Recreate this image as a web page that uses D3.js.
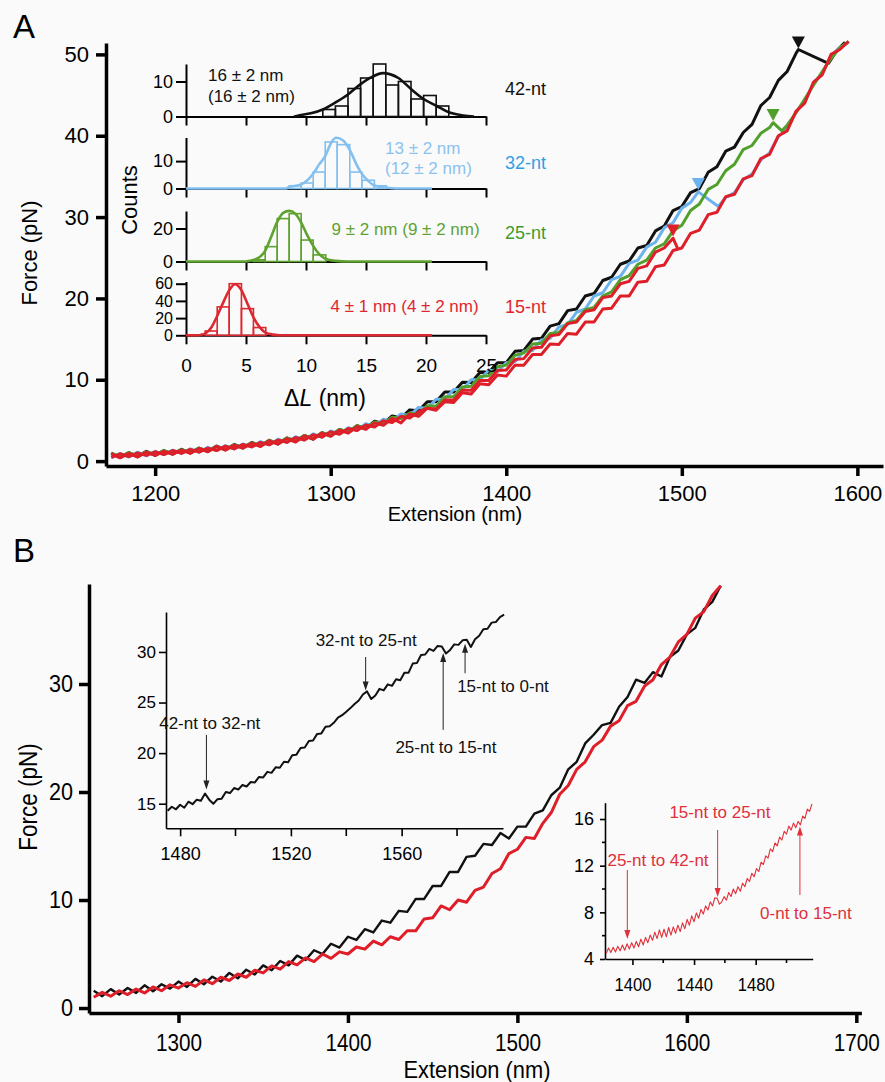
<!DOCTYPE html>
<html><head><meta charset="utf-8">
<script src="https://cdn.jsdelivr.net/npm/d3@7"></script>
<style>body{margin:0;background:#fafafa}svg{display:block}</style>
</head><body>
<svg id="c" width="885" height="1082"></svg>
<script>
// ---------------- DATA ----------------
// Panel A : force-extension traces (extension nm, force pN). Values sampled every 5 nm from start.
const aStart = 1175, aStep = 5;
const blackA = [1.0,0.45,1.05,0.55,1.2,0.7,1.3,0.85,1.45,1.0,1.6,1.2,1.85,1.4,2.05,1.6,2.3,1.85,2.55,2.1,2.85,2.45,3.15,2.7,3.5,3.1,3.9,3.5,4.35,4.0,4.9,4.6,5.55,5.3,6.3,6.2,7.3,7.3,8.5,8.5,9.7,9.65,10.9,10.9,12.1,12.1,13.5,13.6,15.0,15.1,16.6,16.9,18.5,18.7,20.3,20.6,22.2,22.6,24.2,24.6,26.2,26.5,28.3,28.9,30.8,31.3,33.0,33.5,35.5,36.2,38.1,38.6,40.4,41.4,43.7,44.7,46.8,47.9,50.1];
const blackATail = [[1566.4,50.6],[1583.5,48.9],[1588,50.4],[1593,51.5]];
const blueA = [0.4,0.95,0.5,1.1,0.65,1.2,0.8,1.35,0.95,1.5,1.1,1.7,1.3,1.9,1.5,2.1,1.75,2.4,2.0,2.7,2.3,3.0,2.6,3.35,2.95,3.7,3.35,4.1,3.8,4.6,4.3,5.15,4.9,5.8,
  5.6,6.6,6.5,7.6,7.6,8.8,8.8,10.0,10.0,11.2,11.0,12.1,12.2,13.5,13.6,14.9,15.1,16.5,16.8,18.3,18.7,20.3,20.7,22.3,22.7,24.3,24.7,26.3,26.9,28.7,29.3,31.1,31.8];
const blueATail = [[1509.4,33.1],[1520.8,31.3],[1525,32.4],[1530,33.0],[1535,34.6],[1540,35.3],[1545,37.0],[1550,37.9],[1555,39.9],[1560,40.8],[1565,42.9],[1570,44.2],[1575,46.4],[1580,47.7],[1585,49.8],[1590,50.8],[1595,51.5]];
const greenA = [0.95,0.5,1.05,0.6,1.15,0.75,1.3,0.9,1.4,1.05,1.6,1.2,1.8,1.4,2.0,1.65,2.25,1.9,2.55,2.2,2.85,2.45,3.15,2.8,3.5,3.15,3.9,3.6,4.35,4.05,4.8,4.6,5.4,5.25,
  5.9,5.75,6.8,6.75,7.9,7.9,9.1,9.2,10.4,10.5,11.6,11.8,13.0,13.3,14.4,14.5,15.7,15.8,17.0,17.3,18.6,18.9,20.3,20.8,22.3,22.8,24.2,24.7,26.2,26.7,28.3,29.0,30.8,31.6,33.4,34.0,35.7,36.5,38.3,38.8,40.3,41.0];
const greenATail = [[1552,41.6],[1557,40.6],[1560,41.3],[1565,42.8],[1570,44.5],[1575,46.2],[1580,47.9],[1585,49.5],[1590,50.8],[1595,51.6]];
const redA = [0.45,0.9,0.55,1.0,0.7,1.15,0.8,1.3,0.95,1.45,1.1,1.6,1.3,1.85,1.5,2.05,1.75,2.3,2.0,2.6,2.3,2.9,2.6,3.25,2.95,3.6,3.3,4.0,3.75,4.45,4.2,4.95,4.75,5.5,5.3,6.05,
  6.5,6.4,7.5,7.5,8.7,8.7,9.9,9.9,11.15,11.2,12.5,12.6,13.9,14.0,15.4,15.55,16.9,17.1,18.4,18.6,20.1,20.3,21.8,22.1,23.7,24.0,25.7,26.2,27.4];
const redATail = [[1497.5,26.2]];
// common unfolded (lower) curve, red relaxation trace
const lowerA = [0.9,0.4,0.95,0.5,1.1,0.7,1.2,0.85,1.35,0.95,1.55,1.15,1.8,1.35,1.95,1.6,2.2,1.8,2.5,2.1,2.75,2.35,3.1,2.7,3.45,3.05,3.8,3.45,4.25,3.9,4.7,4.4,5.25,4.7,5.8,5.5,6.5,6.25,7.3,7.2,8.4,8.25,9.5,9.4,10.6,10.45,11.8,11.8,13.1,13.1,14.4,14.35,15.7,15.6,17.1,17.1,18.7,18.8,20.3,20.3,22.0,22.1,23.9,24.1,25.9,26.2,28.0,28.4,30.3,30.6,32.5,32.8,34.7,35.1,37.2,37.7,40.0,40.6,43.0,44.0,46.6,47.5,50.0,50.6,51.6];
// transition markers (extension, force)
const markersA = [
  {e:1566.4, F:50.6, k:'black'},
  {e:1552.0, F:41.7, k:'green'},
  {e:1509.4, F:33.2, k:'blue'},
  {e:1495.0, F:27.5, k:'red'}
];
const tickA_x = [1200,1300,1400,1500,1600];
const tickA_y = [0,10,20,30,40,50];

// Panel A inset: histograms of ΔL (nm)
const blackEdges = [11.4,12.45,13.5,14.55,15.6,16.65,17.7,18.75,19.8,20.85,21.9];
const blackCounts = [2,3,8,11,15,9,10,5,6,3];
const blueEdges = [8.6,9.6,10.6,11.6,12.6,13.65,14.65,15.7,16.7];
const blueCounts = [1,2,6,17,16,6,3,1];
const greenEdges = [5.6,6.6,7.6,8.6,9.6,10.6,11.65];
const greenCounts = [1,9,26,29,13,4];
const redEdges = [1.6,2.6,3.6,4.62,5.62,6.65];
const redCounts = [5,33,60,31,9];
const blackFit = [[9.0,0],[9.4,0.3],[10.4,0.9],[11.4,2],[12.4,3.9],[13.5,6.3],[14.5,9.1],[15.5,11.3],[16.4,12.4],[17.7,11],[18.8,7.7],[19.8,5],[20.9,3],[21.9,1.2],[23.1,0.3],[24,0]];
const blueFit = [[0,0],[8.3,0],[8.6,0.5],[9.6,1.5],[10.6,5.4],[11.1,8.8],[11.6,11.8],[12.1,16.7],[12.5,18.5],[13.1,17.5],[13.7,13.6],[14.2,8.8],[14.6,5.7],[15.2,2.7],[15.7,1.1],[16.7,0.25],[17.5,0],[20.5,0]];
const greenFit = [[0,0],[5,0],[5.3,0.4],[6,2],[6.6,6.5],[7.1,15],[7.6,24],[8.1,29.5],[8.6,30.7],[9.1,29],[9.6,23.6],[10.1,16],[10.6,9.5],[11.1,4.5],[11.7,1.4],[12.5,0.4],[13.5,0],[20.5,0]];
const redFit = [[0,0],[1.0,0],[1.3,0.8],[1.67,2.7],[2.14,9.7],[2.56,21.3],[3.06,36.8],[3.58,52],[4.08,59.3],[4.64,52],[5.06,38.8],[5.61,21.3],[6.17,8.9],[6.67,2.7],[7.28,0.8],[7.8,0],[20.5,0]];
const histTicksX = [0,5,10,15,20,25];
const histLabels = [
  {lines:['16 ± 2 nm','(16 ± 2 nm)'], nt:'42-nt'},
  {lines:['13 ± 2 nm','(12 ± 2 nm)'], nt:'32-nt'},
  {lines:['9 ± 2 nm (9 ± 2 nm)'], nt:'25-nt'},
  {lines:['4 ± 1 nm (4 ± 2 nm)'], nt:'15-nt'}
];

// Panel B main traces (start 1250 nm, every 5 nm)
const bStart = 1250, bStep = 5;
const blackB = [1.6,1.1,1.75,1.25,1.85,1.4,2.1,1.55,2.2,1.8,2.45,1.95,2.7,2.2,2.9,2.45,3.25,2.75,3.55,3.1,3.95,3.5,4.35,3.95,4.85,4.45,5.35,5.0,5.95,5.6,6.6,6.3,7.3,7.0,8.1,7.9,9.0,8.9,10.1,10.1,11.3,11.3,12.6,12.6,14.0,14.1,15.2,15.1,16.2,15.7,16.8,16.8,18.0,18.3,19.7,20.4,22.1,22.8,24.5,25.3,26.2,26.4,27.9,28.8,30.4,30.1,31.1,30.7,32.5,33.1,34.6,35.2,36.9,37.6,39.1];
const redB = [1.0,1.45,1.1,1.6,1.25,1.75,1.4,1.95,1.6,2.15,1.85,2.35,2.0,2.6,2.25,2.85,2.55,3.15,2.85,3.5,3.25,3.9,3.6,4.3,4.0,4.65,4.3,5.0,4.6,5.2,5.0,5.65,5.45,6.2,5.85,6.6,6.35,7.15,7.15,8.25,8.35,9.45,9.1,10.0,9.8,10.9,11.2,12.45,12.9,14.3,14.7,15.8,15.7,17.1,18.1,19.8,20.6,22.1,22.8,24.2,24.8,26.1,26.6,28.0,28.4,29.8,30.4,31.8,32.5,33.9,34.6,36.1,36.7,38.2,39.1];
const tickB_x = [1300,1400,1500,1600,1700];
const tickB_y = [0,10,20,30];
// Panel B inset 1 (black, every 1.5 nm from 1475.5)
const i1Start = 1475.5, i1Step = 1.5;
const inset1 = [14.3,14.7,14.45,14.9,14.6,15.2,14.95,15.4,15.3,16.0,
  15.4,15.0,15.45,15.5,16.15,16.05,16.55,16.4,16.85,16.7,
  17.15,17.1,17.65,17.6,18.15,18.05,18.6,18.55,19.15,19.1,
  19.8,19.85,20.5,20.55,21.2,21.25,21.9,21.95,22.6,22.65,
  23.0,23.5,23.75,24.1,24.45,24.85,25.2,25.8,26.1,25.35,
  25.7,26.35,26.2,26.8,26.65,27.3,27.2,27.95,27.95,28.85,
  28.9,29.7,29.75,30.3,30.1,30.6,30.55,29.85,30.2,30.75,
  30.7,31.15,31.2,30.5,31.25,31.6,32.25,32.3,32.9,32.95,
  33.45,33.7];
const inset1TicksX = [1480,1520,1560], inset1MinorX = [1500,1540,1580], inset1TicksY = [15,20,25,30];
const inset1Notes = [
  {label:'42-nt to 32-nt', le:1490.7, lF:22.9, ae:1489.5, tail:21.8, tip:16.4},
  {label:'32-nt to 25-nt', le:1547.2, lF:31.1, ae:1547.0, tail:29.5, tip:26.2},
  {label:'25-nt to 15-nt', le:1576.0, lF:20.6, ae:1575.0, tail:22.3, tip:29.9},
  {label:'15-nt to 0-nt',  le:1596.6, lF:26.6, ae:1582.9, tail:27.9, tip:30.8}
];
// Panel B inset 2 (red, every 1.5 nm from 1383)
const i2Start = 1383, i2Step = 1.5;
const inset2 = [4.5,4.95,4.55,5.0,4.6,5.1,4.7,5.2,4.75,5.3,
  4.85,5.4,4.95,5.5,5.05,5.7,5.2,5.85,5.4,6.05,
  5.6,6.3,5.75,6.5,5.85,6.55,5.9,6.7,6.05,6.75,
  6.2,6.9,6.35,7.1,6.6,7.4,6.9,7.7,7.2,7.95,
  7.5,8.25,7.85,8.55,8.2,8.9,8.55,9.25,9.2,8.7,
  8.9,9.35,9.05,9.7,9.35,10.0,9.6,10.2,9.8,10.5,
  10.2,10.9,10.65,11.35,11.05,11.75,11.5,12.3,12.1,12.85,
  12.65,13.45,13.2,13.95,13.7,14.45,14.2,14.95,14.7,15.4,
  15.05,15.65,15.25,15.8,15.5,16.25,16.05,16.85,16.65,17.3];
const inset2TicksX = [1400,1440,1480], inset2MinorX = [1420,1460,1500];
const inset2TicksY = [4,8,12,16], inset2MinorY = [6,10,14];
const inset2Notes = [
  {label:'25-nt to 42-nt', le:1416.6, lF:12.43, ae:1396.7, tail:11.63, tip:5.72},
  {label:'15-nt to 25-nt', le:1456.8, lF:16.52, ae:1455.3, tail:15.06, tip:9.32},
  {label:'0-nt to 15-nt',  le:1512.6, lF:7.86,  ae:1508.7, tail:9.49,  tip:15.35}
];

// ---------------- STYLE ----------------
const FONT = '"Liberation Sans", Arial, Helvetica, sans-serif';
const COL = {black:'#111111', blue:'#6cb2ec', green:'#52a02c', red:'#de1f29'};
const HCOL = {black:'#111111', blue:'#84c0ef', green:'#5ea22f', red:'#dc2830'};
const svg = d3.select('#c');
svg.append('rect').attr('width',885).attr('height',1082).attr('fill','#fafafa');

function series(start, step, vals, tail) {
  return vals.map((v,i)=>[start+i*step, v]).concat(tail||[]);
}
function addText(g, x, y, str, o) {
  o = o||{};
  const t = g.append('text').attr('x', x).attr('y', y).text(str)
    .attr('font-family', FONT).attr('font-size', o.size||16).attr('fill', o.color||'#000')
    .attr('text-anchor', o.anchor||'start').attr('dominant-baseline','central');
  if (o.sx) t.attr('x', x/o.sx).attr('transform', `scale(${o.sx},1)`);
  return t;
}
function vText(g, x, y, str, size, sx) {
  return g.append('text').attr('transform', `translate(${x},${y}) rotate(-90) scale(${sx||1},1)`)
    .attr('text-anchor','middle').attr('dominant-baseline','central')
    .attr('font-family', FONT).attr('font-size', size).attr('fill','#000').text(str);
}
function styleAxis(g, sw, fs, o) {
  o = o||{};
  g.attr('font-family', null).attr('font-size', null);
  g.select('.domain').attr('stroke','#000').attr('stroke-width', sw);
  g.selectAll('.tick line').attr('stroke','#000').attr('stroke-width', o.tw||sw);
  const t = g.selectAll('.tick text').attr('fill','#000').attr('font-family',FONT).attr('font-size',fs);
  if (o.cy !== undefined) t.attr('y', o.cy).attr('dy','0.35em');
  if (o.sx) {
    t.each(function(){
      const el = d3.select(this);
      el.attr('x', (+el.attr('x')||0)/o.sx).attr('transform', `scale(${o.sx},1)`);
    });
  }
  return g;
}
function arrow(g, x, yTail, yTip, color, w) {
  const s = yTip > yTail ? 1 : -1;
  g.append('line').attr('x1',x).attr('x2',x).attr('y1',yTail).attr('y2',yTip - s*7)
    .attr('stroke',color).attr('stroke-width',w||1);
  g.append('path').attr('d',`M${x},${yTip} L${x-3},${yTip-s*9} L${x+3},${yTip-s*9} Z`).attr('fill',color);
}

// ---------------- PANEL A ----------------
const gA = svg.append('g');
addText(gA, 13, 26, 'A', {size:33});
const xA = d3.scaleLinear().domain([1172, 1614.6]).range([106, 883]);
const yA = d3.scaleLinear().domain([-0.6, 51.4]).range([466, 43]);
const lineA = d3.line().x(d=>xA(d[0])).y(d=>yA(d[1]));

const tracesA = [
  {d: series(aStart, aStep, blackA, blackATail), c: COL.black},
  {d: series(aStart, aStep, blueA, blueATail), c: COL.blue},
  {d: series(aStart, aStep, greenA, greenATail), c: COL.green},
  {d: series(aStart, aStep, lowerA), c: COL.red},
  {d: series(aStart, aStep, redA, redATail), c: COL.red}
];
gA.selectAll('path.tr').data(tracesA).join('path').attr('class','tr')
  .attr('d', t=>lineA(t.d)).attr('fill','none').attr('stroke', t=>t.c)
  .attr('stroke-width', 3).attr('stroke-linejoin','round');

gA.selectAll('path.mk').data(markersA).join('path').attr('class','mk')
  .attr('d', m=>{const x=xA(m.e), y=yA(m.F)-1; return `M${x-6.5},${y-12} L${x+6.5},${y-12} L${x},${y} Z`;})
  .attr('fill', m=>COL[m.k]);

styleAxis(gA.append('g').attr('transform','translate(106,0)')
  .call(d3.axisLeft(yA).tickValues(tickA_y).tickSize(10).tickPadding(7).tickSizeOuter(0)), 3.5, 22);
styleAxis(gA.append('g').attr('transform','translate(0,466)')
  .call(d3.axisBottom(xA).tickValues(tickA_x).tickFormat(d3.format('d')).tickSize(10).tickSizeOuter(0)), 3.5, 22, {cy:27});
vText(gA, 29, 253, 'Force (pN)', 22);
addText(gA, 455, 514, 'Extension (nm)', {size:20, anchor:'middle'});

// inset histograms
const hx = d3.scaleLinear().domain([0,25]).range([186,486]);
const panels = [
  {edges:blackEdges, counts:blackCounts, fit:blackFit, k:'black', base:116.5, top:64, ppc:3.5, ticks:[0,10], fs:18},
  {edges:blueEdges, counts:blueCounts, fit:blueFit, k:'blue', base:188.5, top:137.5, ppc:2.74, ticks:[0,10], fs:18},
  {edges:greenEdges, counts:greenCounts, fit:greenFit, k:'green', base:261.5, top:211, ppc:1.65, ticks:[0,20], fs:18},
  {edges:redEdges, counts:redCounts, fit:redFit, k:'red', base:335.3, top:281.5, ppc:0.86, ticks:[0,20,40,60], fs:16}
];
panels.forEach((p, pi) => {
  const g = gA.append('g');
  const ys = d3.scaleLinear().domain([0, (p.base-p.top)/p.ppc]).range([p.base, p.top]);
  styleAxis(g.append('g').attr('transform','translate(186,0)')
    .call(d3.axisLeft(ys).tickValues(p.ticks).tickSize(10).tickPadding(3).tickSizeOuter(0)), 2, p.fs);
  const xg = g.append('g').attr('transform',`translate(0,${p.base})`)
    .call(d3.axisBottom(hx).tickValues(histTicksX).tickSize(9).tickSizeOuter(0));
  styleAxis(xg, 2, 19, {cy:30});
  if (pi < 3) xg.selectAll('.tick text').remove();
  const bins = p.counts.map((c,i)=>({x0:p.edges[i], x1:p.edges[i+1], c}));
  g.selectAll('rect').data(bins).join('rect')
    .attr('x', b=>hx(b.x0)).attr('width', b=>hx(b.x1)-hx(b.x0))
    .attr('y', b=>ys(b.c)).attr('height', b=>p.base-ys(b.c))
    .attr('fill','none').attr('stroke', HCOL[p.k]).attr('stroke-width',1.6);
  g.append('path').attr('d', d3.line().curve(d3.curveMonotoneX).x(d=>hx(d[0])).y(d=>ys(d[1]))(p.fit))
    .attr('fill','none').attr('stroke', HCOL[p.k]).attr('stroke-width',2.6);
});
const labelCol = ['#111','#8cc2ee','#5fa233','#e0262e'];
const ntCol = ['#111','#2f9ee4','#3f9b2f','#e0262e'];
addText(gA, 208, 75, histLabels[0].lines[0], {size:17, color:labelCol[0]});
addText(gA, 208, 96, histLabels[0].lines[1], {size:17, color:labelCol[0]});
addText(gA, 385, 148.5, histLabels[1].lines[0], {size:17, color:labelCol[1]});
addText(gA, 385, 168, histLabels[1].lines[1], {size:17, color:labelCol[1]});
addText(gA, 331.5, 229.5, histLabels[2].lines[0], {size:17, color:labelCol[2]});
addText(gA, 330.5, 306, histLabels[3].lines[0], {size:17, color:labelCol[3]});
[89.3, 162.7, 232.7, 306.7].forEach((y,i)=> addText(gA, 505, y, histLabels[i].nt, {size:18, color:ntCol[i]}));
vText(gA, 129.5, 200, 'Counts', 22);
const dl = gA.append('text').attr('x',325).attr('y',398).attr('text-anchor','middle')
  .attr('dominant-baseline','central').attr('font-family',FONT).attr('font-size',23).attr('fill','#000');
dl.append('tspan').text('Δ');
dl.append('tspan').attr('font-style','italic').text('L');
dl.append('tspan').text(' (nm)');

// ---------------- PANEL B ----------------
const gB = svg.append('g');
addText(gB, 13, 550, 'B', {size:33});
const xB = d3.scaleLinear().domain([1247.2, 1703]).range([89, 861.4]);
const yB = d3.scaleLinear().domain([-0.46, 39.26]).range([1013, 584]);
const lineB = d3.line().x(d=>xB(d[0])).y(d=>yB(d[1]));
gB.append('path').attr('d', lineB(series(bStart,bStep,blackB))).attr('fill','none')
  .attr('stroke',COL.black).attr('stroke-width',2.4).attr('stroke-linejoin','round');
gB.append('path').attr('d', lineB(series(bStart,bStep,redB))).attr('fill','none')
  .attr('stroke',COL.red).attr('stroke-width',3).attr('stroke-linejoin','round');
styleAxis(gB.append('g').attr('transform','translate(89,0)')
  .call(d3.axisLeft(yB).tickValues(tickB_y).tickSize(10).tickPadding(6).tickSizeOuter(0)), 3.5, 24, {sx:0.9});
styleAxis(gB.append('g').attr('transform','translate(0,1013)')
  .call(d3.axisBottom(xB).tickValues(tickB_x).tickFormat(d3.format('d')).tickSize(10).tickSizeOuter(0)), 3.5, 23, {cy:30, sx:0.9});
vText(gB, 28, 797, 'Force (pN)', 25, 0.9);
addText(gB, 477, 1070, 'Extension (nm)', {size:23, anchor:'middle', sx:0.95});

// inset 1
const x1 = d3.scaleLinear().domain([1474.9, 1596.6]).range([166, 503]);
const y1 = d3.scaleLinear().domain([12.57, 33.95]).range([828.3, 612]);
const g1 = gB.append('g');
styleAxis(g1.append('g').attr('transform','translate(166,0)')
  .call(d3.axisLeft(y1).tickValues(inset1TicksY).tickSize(7).tickPadding(3).tickSizeOuter(0)), 1.6, 17);
styleAxis(g1.append('g').attr('transform','translate(0,828.3)')
  .call(d3.axisBottom(x1).tickValues(inset1TicksX).tickFormat(d3.format('d')).tickSize(8).tickSizeOuter(0)), 1.6, 18, {cy:25});
g1.append('g').selectAll('line').data(inset1MinorX).join('line')
  .attr('x1',d=>x1(d)).attr('x2',d=>x1(d)).attr('y1',828.3).attr('y2',836).attr('stroke','#000').attr('stroke-width',1.6);
g1.append('path').attr('d', d3.line().x(d=>x1(d[0])).y(d=>y1(d[1]))(series(i1Start,i1Step,inset1)))
  .attr('fill','none').attr('stroke','#111').attr('stroke-width',2).attr('stroke-linejoin','round');
inset1Notes.forEach(n=>{
  arrow(g1, x1(n.ae), y1(n.tail), y1(n.tip), '#222', 1);
  addText(g1, x1(n.le), y1(n.lF), n.label, {size:17, anchor:'middle', color:'#111'});
});

// inset 2
const x2 = d3.scaleLinear().domain([1382.2, 1517]).range([605, 812.7]);
const y2 = d3.scaleLinear().domain([4, 17.4]).range([959, 802.7]);
const g2 = gB.append('g');
styleAxis(g2.append('g').attr('transform','translate(605,0)')
  .call(d3.axisLeft(y2).tickValues(inset2TicksY).tickSize(5).tickPadding(6).tickSizeOuter(0)), 1.6, 18);
styleAxis(g2.append('g').attr('transform','translate(0,959)')
  .call(d3.axisBottom(x2).tickValues(inset2TicksX).tickFormat(d3.format('d')).tickSize(6).tickSizeOuter(0)), 1.6, 18, {cy:26, sx:0.92});
g2.append('g').selectAll('line').data(inset2MinorX).join('line')
  .attr('x1',d=>x2(d)).attr('x2',d=>x2(d)).attr('y1',959).attr('y2',963).attr('stroke','#000').attr('stroke-width',1.6);
g2.append('g').selectAll('line').data(inset2MinorY).join('line')
  .attr('y1',d=>y2(d)).attr('y2',d=>y2(d)).attr('x1',602).attr('x2',605).attr('stroke','#000').attr('stroke-width',1.6);
g2.append('path').attr('d', d3.line().x(d=>x2(d[0])).y(d=>y2(d[1]))(series(i2Start,i2Step,inset2)))
  .attr('fill','none').attr('stroke','#e0303a').attr('stroke-width',1.1).attr('stroke-linejoin','round');
inset2Notes.forEach(n=>{
  arrow(g2, x2(n.ae), y2(n.tail), y2(n.tip), '#e0303a', 1);
  addText(g2, x2(n.le), y2(n.lF), n.label, {size:17, anchor:'middle', color:'#e0303a'});
});
</script>
</body></html>
